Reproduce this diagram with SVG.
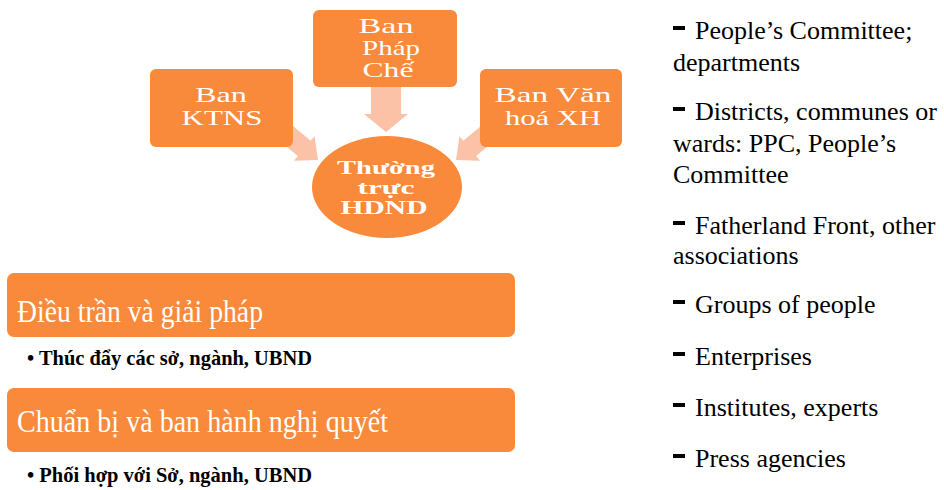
<svg xmlns="http://www.w3.org/2000/svg" width="944" height="490" viewBox="0 0 944 490">
  <defs>
    <style>
      .box { fill: #F98A3B; }
      .arrow { fill: #FCC2A8; }
      .serif { font-family: "Liberation Serif", "Times New Roman", "DejaVu Serif", serif; }
      .boxtxt { font-size: 21px; fill: #ffffff; text-anchor: middle; }
      .circtxt { font-size: 18px; font-weight: bold; fill: #ffffff; text-anchor: middle; }
      .bartxt { font-size: 31px; fill: #ffffff; }
      .bullet { font-size: 21px; font-weight: bold; fill: #000000; }
      .list { font-size: 26px; fill: #000000; }
      .dash { fill: #000000; }
    </style>
    <path id="blockArrow" d="M -60 -10 L -18 -10 L -18 -16 L 0 0 L -18 16 L -18 10 L -60 10 Z"/>
  </defs>

  <rect width="944" height="490" fill="#ffffff"/>

  <g id="connectors">
    <path class="arrow" d="M 371 80 L 401 80 L 401 114 L 408 114 L 386 132 L 364 114 L 371 114 Z"/>
    <use href="#blockArrow" class="arrow" transform="translate(318,160) rotate(40)"/>
    <use href="#blockArrow" class="arrow" transform="translate(456,160) rotate(140)"/>
  </g>

  <g id="n-phapche" class="serif">
    <rect class="box" x="313" y="10" width="144" height="77" rx="6"/>
    <text class="boxtxt" x="386" y="33" textLength="55" lengthAdjust="spacingAndGlyphs">Ban</text>
    <text class="boxtxt" x="391" y="55" textLength="58" lengthAdjust="spacingAndGlyphs">Pháp</text>
    <text class="boxtxt" x="388" y="77" textLength="51" lengthAdjust="spacingAndGlyphs">Chế</text>
  </g>

  <g id="n-ktns" class="serif">
    <rect class="box" x="150" y="69" width="143" height="78" rx="6"/>
    <text class="boxtxt" x="221" y="102" textLength="52" lengthAdjust="spacingAndGlyphs">Ban</text>
    <text class="boxtxt" x="222" y="125" textLength="81" lengthAdjust="spacingAndGlyphs">KTNS</text>
  </g>

  <g id="n-vhxh" class="serif">
    <rect class="box" x="480" y="69" width="142" height="78" rx="6"/>
    <text class="boxtxt" x="553" y="102" textLength="117" lengthAdjust="spacingAndGlyphs">Ban Văn</text>
    <text class="boxtxt" x="553" y="125" textLength="96" lengthAdjust="spacingAndGlyphs">hoá XH</text>
  </g>

  <g id="n-thuongtruc" class="serif">
    <ellipse class="box" cx="387" cy="187" rx="75" ry="51"/>
    <text class="circtxt" x="386" y="174" textLength="98" lengthAdjust="spacingAndGlyphs">Thường</text>
    <text class="circtxt" x="386" y="194" textLength="57" lengthAdjust="spacingAndGlyphs">trực</text>
    <text class="circtxt" x="384" y="214" textLength="87" lengthAdjust="spacingAndGlyphs">HDND</text>
  </g>

  <g id="bar-dieutran" class="serif">
    <rect class="box" x="7" y="273" width="508" height="64" rx="7"/>
    <text class="bartxt" x="17" y="322" textLength="246" lengthAdjust="spacingAndGlyphs">Điều trần và giải pháp</text>
    <text class="bullet" x="27" y="365" textLength="285" lengthAdjust="spacingAndGlyphs">• Thúc đẩy các sở, ngành, UBND</text>
  </g>

  <g id="bar-chuanbi" class="serif">
    <rect class="box" x="7" y="388" width="508" height="64" rx="7"/>
    <text class="bartxt" x="17" y="432" textLength="371" lengthAdjust="spacingAndGlyphs">Chuẩn bị và ban hành nghị quyết</text>
    <text class="bullet" x="27" y="482" textLength="285" lengthAdjust="spacingAndGlyphs">• Phối hợp với Sở, ngành, UBND</text>
  </g>

  <g id="stakeholders" class="serif">
    <rect class="dash" x="673" y="26" width="12" height="4"/>
    <text class="list" x="695" y="39">People’s Committee;</text>
    <text class="list" x="673" y="71">departments</text>
    <rect class="dash" x="673" y="107" width="12" height="4"/>
    <text class="list" x="695" y="120">Districts, communes or</text>
    <text class="list" x="673" y="152">wards: PPC, People’s</text>
    <text class="list" x="673" y="183">Committee</text>
    <rect class="dash" x="673" y="221" width="12" height="4"/>
    <text class="list" x="695" y="234">Fatherland Front, other</text>
    <text class="list" x="673" y="264">associations</text>
    <rect class="dash" x="673" y="300" width="12" height="4"/>
    <text class="list" x="695" y="313">Groups of people</text>
    <rect class="dash" x="673" y="352" width="12" height="4"/>
    <text class="list" x="695" y="365">Enterprises</text>
    <rect class="dash" x="673" y="403" width="12" height="4"/>
    <text class="list" x="695" y="416">Institutes, experts</text>
    <rect class="dash" x="673" y="454" width="12" height="4"/>
    <text class="list" x="695" y="467">Press agencies</text>
  </g>
</svg>
